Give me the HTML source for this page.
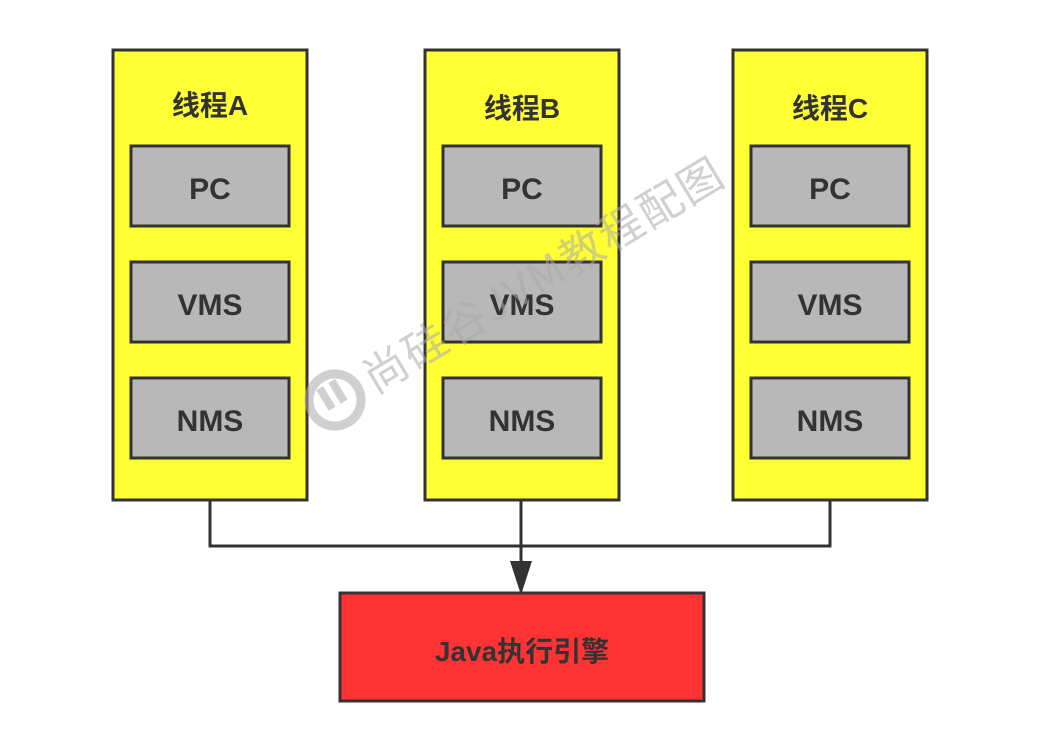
<!DOCTYPE html>
<html><head><style>body{margin:0;background:#fff}svg{display:block}</style></head><body>
<svg width="1040" height="751" xmlns="http://www.w3.org/2000/svg" font-family="Liberation Sans, Noto Sans CJK SC, sans-serif">
<g stroke="#333" stroke-width="3">
<rect x="113" y="50" width="194" height="450" fill="#ffff33"/>
<rect x="425" y="50" width="194" height="450" fill="#ffff33"/>
<rect x="733" y="50" width="194" height="450" fill="#ffff33"/>
<g fill="#b8b8b8">
<rect x="131" y="146" width="158" height="80"/><rect x="131" y="262" width="158" height="80"/><rect x="131" y="378" width="158" height="80"/>
<rect x="443" y="146" width="158" height="80"/><rect x="443" y="262" width="158" height="80"/><rect x="443" y="378" width="158" height="80"/>
<rect x="751" y="146" width="158" height="80"/><rect x="751" y="262" width="158" height="80"/><rect x="751" y="378" width="158" height="80"/>
</g>
<rect x="340" y="593" width="364" height="108" fill="#ff3333"/>
<polyline points="210,500 210,546 830,546 830,500" fill="none"/>
<line x1="521" y1="500" x2="521" y2="565"/>
</g>
<polygon points="510,561 532,561 521,595" fill="#333"/>
<g fill="#333" font-weight="bold" font-size="30" text-anchor="middle">
<text x="210" y="115" font-size="28">线程A</text><text x="522" y="118" font-size="28">线程B</text><text x="830" y="118" font-size="28">线程C</text>
<text x="210" y="199">PC</text><text x="210" y="315">VMS</text><text x="210" y="431">NMS</text>
<text x="522" y="199">PC</text><text x="522" y="315">VMS</text><text x="522" y="431">NMS</text>
<text x="830" y="199">PC</text><text x="830" y="315">VMS</text><text x="830" y="431">NMS</text>
<text x="522" y="661" font-size="28">Java执行引擎</text>
</g>
<g opacity="0.55" fill="#aaa" transform="rotate(-31 335 400)">
<circle cx="335" cy="400" r="26" fill="none" stroke="#aaa" stroke-width="9"/>
<rect x="324" y="382" width="8" height="24" fill="#aaa"/><rect x="338" y="382" width="8" height="24"/>
<text x="372" y="416" font-size="44" letter-spacing="2" font-family="Noto Sans CJK SC, sans-serif">尚硅谷JVM教程配图</text>
</g>
</svg>
</body></html>
